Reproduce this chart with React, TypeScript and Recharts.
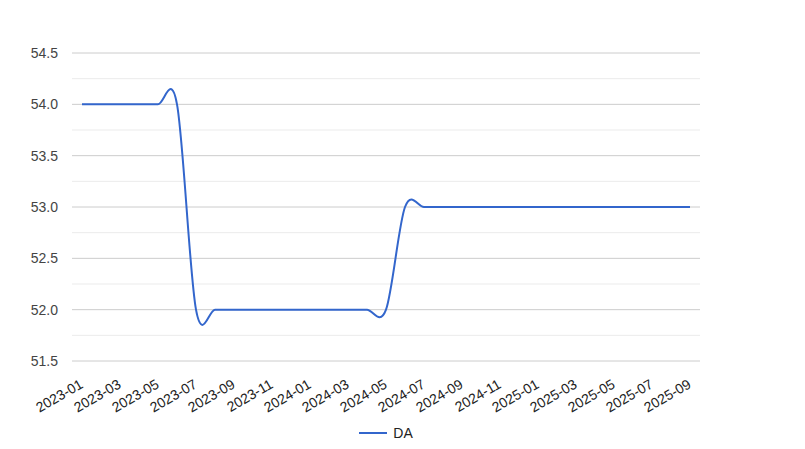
import { LineChart, Line, XAxis, YAxis, CartesianGrid, ReferenceLine, Legend } from 'recharts';

const months = [
  '2023-01', '2023-02', '2023-03', '2023-04', '2023-05', '2023-06', '2023-07', '2023-08',
  '2023-09', '2023-10', '2023-11', '2023-12', '2024-01', '2024-02', '2024-03', '2024-04',
  '2024-05', '2024-06', '2024-07', '2024-08', '2024-09', '2024-10', '2024-11', '2024-12',
  '2025-01', '2025-02', '2025-03', '2025-04', '2025-05', '2025-06', '2025-07', '2025-08',
  '2025-09',
];
const daValues = [
  54, 54, 54, 54, 54, 54, 52, 52,
  52, 52, 52, 52, 52, 52, 52, 52,
  52, 53, 53, 53, 53, 53, 53, 53,
  53, 53, 53, 53, 53, 53, 53, 53,
  53,
];
const yTicks = [51.5, 52, 52.5, 53, 53.5, 54, 54.5];
const minorTicks = [51.75, 52.25, 52.75, 53.25, 53.75, 54.25];

const data = months.map((m, i) => ({ month: m, DA: daValues[i] }));

const FONT = 'Arial, "Liberation Sans", sans-serif';

// catmull-rom style smoothing, like google's curveType: 'function'
const smoothCurve = (context: any) => {
  let pts: number[][] = [];
  return {
    areaStart() {},
    areaEnd() {},
    lineStart() {
      pts = [];
    },
    point(x: number, y: number) {
      pts.push([+x, +y]);
    },
    lineEnd() {
      if (!pts.length) return;
      context.moveTo(pts[0][0], pts[0][1]);
      for (let i = 0; i < pts.length - 1; i++) {
        const p0 = pts[Math.max(i - 1, 0)];
        const p1 = pts[i];
        const p2 = pts[i + 1];
        const p3 = pts[Math.min(i + 2, pts.length - 1)];
        context.bezierCurveTo(
          p1[0] + (p2[0] - p0[0]) / 6,
          p1[1] + (p2[1] - p0[1]) / 6,
          p2[0] - (p3[0] - p1[0]) / 6,
          p2[1] - (p3[1] - p1[1]) / 6,
          p2[0],
          p2[1],
        );
      }
    },
  };
};

function MonthTick({ x, y, payload }: any) {
  return (
    <text
      x={x + 2}
      y={y + 18}
      transform={`rotate(-30, ${x + 2}, ${y + 18})`}
      textAnchor="end"
      fontSize={14}
      fontFamily={FONT}
      fill="#222"
    >
      {payload.value}
    </text>
  );
}

function LegendContent() {
  return (
    <div style={{ display: 'flex', justifyContent: 'center', alignItems: 'center', height: 20 }}>
      <svg width={28} height={4} style={{ marginRight: 6 }}>
        <line x1={0} y1={2} x2={28} y2={2} stroke="#3366cc" strokeWidth={2} />
      </svg>
      <span style={{ fontFamily: FONT, fontSize: 14, color: '#222' }}>DA</span>
    </div>
  );
}

export default function App() {
  return (
    <div style={{ position: 'absolute', left: 0, top: 0, background: '#fff' }}>
      <LineChart width={805} height={449} data={data} margin={{ top: 53, right: 105, bottom: 6, left: 0 }}>
        <CartesianGrid vertical={false} stroke="#cccccc" strokeDasharray="" />
        {minorTicks.map((v) => (
          <ReferenceLine key={v} y={v} stroke="#ebebeb" />
        ))}
        <XAxis
          dataKey="month"
          interval={1}
          height={62}
          padding={{ left: 10, right: 10 }}
          axisLine={false}
          tickLine={false}
          tick={<MonthTick />}
        />
        <YAxis
          domain={[51.5, 54.5]}
          ticks={yTicks}
          width={72}
          axisLine={false}
          tickLine={false}
          tickFormatter={(v: number) => v.toFixed(1)}
          tick={{ fontSize: 14, fontFamily: FONT, fill: '#444' }}
          tickMargin={8}
        />
        <Legend
          verticalAlign="bottom"
          content={<LegendContent />}
          wrapperStyle={{ left: 72, width: 628 }}
        />
        <Line
          dataKey="DA"
          type={smoothCurve as any}
          stroke="#3366cc"
          strokeWidth={2}
          dot={false}
          activeDot={false}
          isAnimationActive={false}
        />
      </LineChart>
    </div>
  );
}
